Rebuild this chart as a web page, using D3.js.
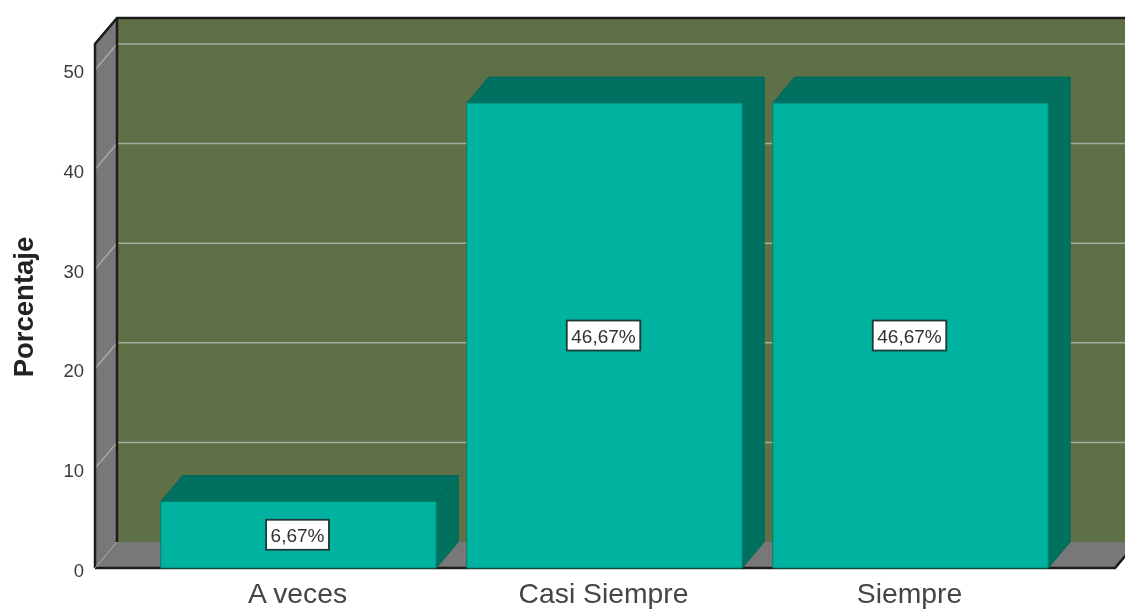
<!DOCTYPE html>
<html>
<head>
<meta charset="utf-8">
<style>
  html, body { margin: 0; padding: 0; background: #fff; }
  text { font-family: "Liberation Sans", Arial, sans-serif; }
</style>
</head>
<body>
<div id="chart"></div>
<script src="https://d3js.org/d3.v7.min.js"></script>
<script>
  // values
  var categories = ["A veces", "Casi Siempre", "Siempre"];
  var percents = [6.67, 46.67, 46.67];
  var percentLabels = ["6,67%", "46,67%", "46,67%"];
  var yTicks = [0, 10, 20, 30, 40, 50];

  var width = 1125, height = 609;
  // offset of the back wall from the front of the box
  var dx = 22, dy = 26;
  var boxLeft = 95, boxRight = 1115, boxBottom = 568, boxTop = 44;

  var svg = d3.select("#chart").append("svg")
      .attr("width", width)
      .attr("height", height)
      .style("display", "block");

  // the reference is a soft, upscaled screenshot
  var soft = svg.append("defs").append("filter")
      .attr("id", "soft")
      .attr("filterUnits", "userSpaceOnUse")
      .attr("x", 0).attr("y", 0)
      .attr("width", width).attr("height", height);
  soft.append("feGaussianBlur").attr("stdDeviation", 0.6);

  var g = svg.append("g").attr("filter", "url(#soft)");

  var y = d3.scaleLinear().domain([0, 52.6]).range([boxBottom, boxTop]);
  var x = d3.scaleBand().domain(categories)
      .range([145.5, 1063.5])
      .paddingInner(0.1)
      .paddingOuter(0.05);

  function poly(points, fill, stroke) {
    return g.append("polygon")
        .attr("points", points.map(function (p) { return p.join(","); }).join(" "))
        .attr("fill", fill)
        .attr("stroke", stroke || "none");
  }

  // back wall, side wall, floor
  poly([[boxLeft + dx, boxTop - dy], [boxRight + dx + 20, boxTop - dy], [boxRight + dx + 20, boxBottom - dy], [boxLeft + dx, boxBottom - dy]], "#5f7047");
  poly([[boxLeft, boxTop], [boxLeft + dx, boxTop - dy], [boxLeft + dx, boxBottom - dy], [boxLeft, boxBottom]], "#787878");
  poly([[boxLeft, boxBottom], [boxLeft + dx, boxBottom - dy], [boxRight + dx, boxBottom - dy], [boxRight, boxBottom]], "#787878");

  // grid lines run across the side wall then along the back
  yTicks.filter(function (d) { return d > 0; }).forEach(function (d) {
    g.append("polyline")
        .attr("points", [[boxLeft, y(d)], [boxLeft + dx, y(d) - dy], [width + 5, y(d) - dy]].join(" "))
        .attr("fill", "none")
        .attr("stroke", "#a8ac9e")
        .attr("stroke-width", 1.5);
  });

  // box edges
  var edge = "#1a1a1a";
  g.append("polyline")
      .attr("points", [[boxLeft, boxBottom], [boxLeft, boxTop], [boxLeft + dx, boxTop - dy], [width + 5, boxTop - dy]].join(" "))
      .attr("fill", "none").attr("stroke", edge).attr("stroke-width", 2.5);
  g.append("line")
      .attr("x1", boxLeft + dx).attr("x2", boxLeft + dx)
      .attr("y1", boxTop - dy).attr("y2", boxBottom - dy)
      .attr("stroke", edge).attr("stroke-width", 2.5);
  g.append("polyline")
      .attr("points", [[boxLeft, boxBottom], [boxRight, boxBottom], [boxRight + dx, boxBottom - dy]].join(" "))
      .attr("fill", "none").attr("stroke", edge).attr("stroke-width", 2.5);
  g.append("line")
      .attr("x1", boxLeft).attr("x2", boxLeft + dx)
      .attr("y1", boxBottom).attr("y2", boxBottom - dy)
      .attr("stroke", "#a5a5a5").attr("stroke-width", 1);

  // bars: top face, side face, front face
  categories.forEach(function (c, i) {
    var x0 = x(c), x1 = x0 + x.bandwidth(), yt = y(percents[i]);
    poly([[x0, yt], [x0 + dx, yt - dy], [x1 + dx, yt - dy], [x1, yt]], "#006f60", "#00685a");
    poly([[x1, yt], [x1 + dx, yt - dy], [x1 + dx, boxBottom - dy], [x1, boxBottom]], "#00705f", "#00685a");
    poly([[x0, yt], [x1, yt], [x1, boxBottom], [x0, boxBottom]], "#00b3a0", "#00806f");

    // value label, box sized to its text
    var cx = x0 + x.bandwidth() / 2 - 1, cy = (yt + boxBottom) / 2;
    var box = g.append("rect");
    var label = g.append("text")
        .attr("x", cx).attr("y", cy + 7)
        .attr("text-anchor", "middle")
        .attr("font-size", 19)
        .attr("fill", "#333")
        .text(percentLabels[i]);
    var w = label.node().getComputedTextLength() + 9;
    box.attr("x", cx - w / 2).attr("y", cy - 15)
        .attr("width", w).attr("height", 30)
        .attr("fill", "#fff")
        .attr("stroke", "#1f3b37").attr("stroke-width", 1.8);
  });

  // axes, only the labels are visible
  var yAxis = g.append("g")
      .attr("transform", "translate(84,1)")
      .call(d3.axisLeft(y).tickValues(yTicks).tickSize(0).tickPadding(0));
  yAxis.select(".domain").remove();
  yAxis.selectAll("text")
      .attr("font-size", 18.5)
      .attr("font-family", "Liberation Sans")
      .attr("fill", "#3a3a3a")
      .attr("dy", "0.38em");

  var xAxis = g.append("g")
      .attr("transform", "translate(-1," + boxBottom + ")")
      .call(d3.axisBottom(x).tickSize(0).tickPadding(15));
  xAxis.select(".domain").remove();
  xAxis.selectAll("text")
      .attr("font-size", 28.3)
      .attr("font-family", "Liberation Sans")
      .attr("fill", "#444");

  g.append("text")
      .attr("transform", "translate(33,307) rotate(-90)")
      .attr("text-anchor", "middle")
      .attr("font-size", 27.5)
      .attr("font-weight", "bold")
      .attr("fill", "#222")
      .text("Porcentaje");
</script>
</body>
</html>
